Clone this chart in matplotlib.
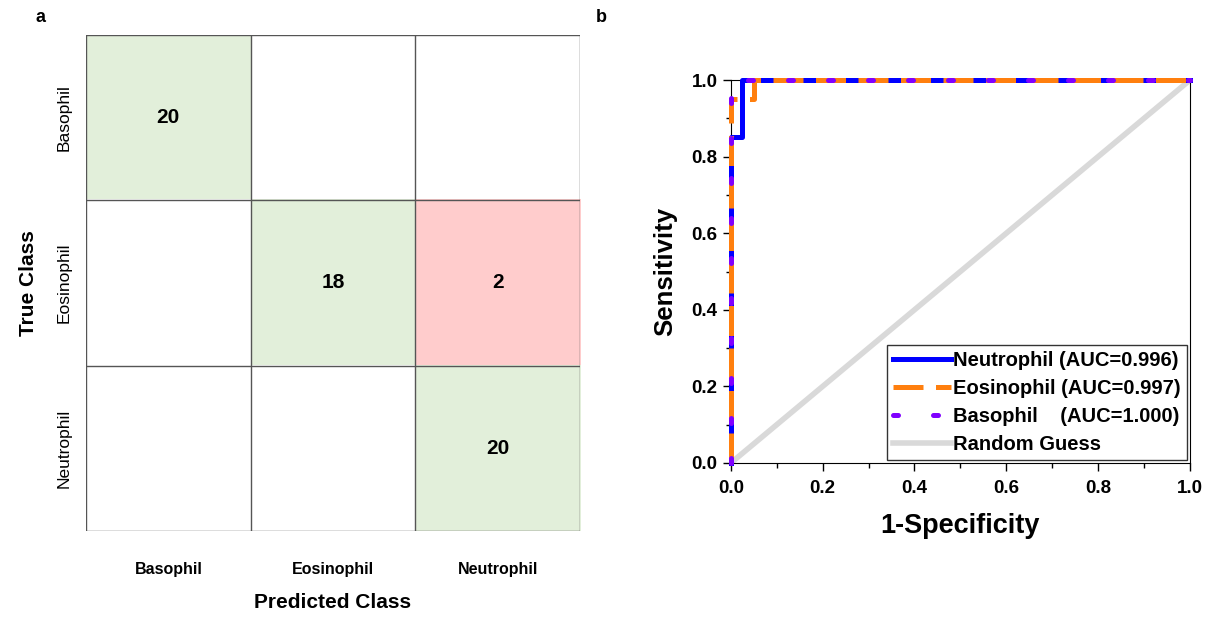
import numpy as np
import matplotlib.pyplot as plt
from matplotlib.ticker import MultipleLocator

plt.rcParams['font.family'] = ['Liberation Sans', 'DejaVu Sans']

# confusion matrix data
classes = ["Basophil", "Eosinophil", "Neutrophil"]
cm = np.array([[20, 0, 0],
               [0, 18, 2],
               [0, 0, 20]])

# ROC curves (false positive rate, true positive rate)
neu_fpr = [0.0, 0.0, 0.025, 0.025, 1.0]
neu_tpr = [0.0, 0.85, 0.85, 1.0, 1.0]
eos_fpr = [0.0, 0.0, 0.05, 0.05, 1.0]
eos_tpr = [0.0, 0.95, 0.95, 1.0, 1.0]
bas_fpr = [0.0, 0.0, 1.0]
bas_tpr = [0.0, 1.0, 1.0]
auc_vals = {"Neutrophil": 0.996, "Eosinophil": 0.997, "Basophil": 1.000}

fig = plt.figure(figsize=(12.18, 6.17), dpi=100)

# ---- panel a: confusion matrix ----
ax1 = fig.add_axes([0.0706, 0.1394, 0.4056, 0.804])
green = np.array([226, 239, 218]) / 255
red = np.array([255, 204, 204]) / 255
white = np.array([1.0, 1.0, 1.0])
n = len(classes)
rgb = np.zeros((n, n, 3))
for i in range(n):
    for j in range(n):
        if i == j:
            rgb[i, j] = green
        elif cm[i, j] > 0:
            rgb[i, j] = red
        else:
            rgb[i, j] = white
ax1.imshow(rgb, aspect='auto', extent=(-0.5, n - 0.5, n - 0.5, -0.5))
for k in range(n + 1):
    ax1.axhline(k - 0.5, color='#555555', lw=1.0)
    ax1.axvline(k - 0.5, color='#555555', lw=1.0)
for i in range(n):
    for j in range(n):
        if cm[i, j] > 0:
            ax1.text(j, i, str(cm[i, j]), ha='center', va='center',
                     fontsize=15, fontweight='bold')
for s in ax1.spines.values():
    s.set_visible(False)
ax1.set_xticks(range(n))
ax1.set_xticklabels(classes, fontsize=11.5, fontweight='bold')
ax1.set_yticks(range(n))
ax1.set_yticklabels(classes, fontsize=12.5, rotation=90, va='center')
ax1.tick_params(length=0)
ax1.tick_params(axis='x', pad=22)
ax1.tick_params(axis='y', pad=10)
ax1.set_xlabel("Predicted Class", fontsize=15, fontweight='bold', labelpad=12)
ax1.set_ylabel("True Class", fontsize=15, fontweight='bold', labelpad=14)
fig.text(0.033, 0.972, "a", fontsize=13, fontweight='bold', ha='center', va='center')

# ---- panel b: ROC ----
ax2 = fig.add_axes([0.600, 0.2496, 0.377, 0.6207])
ax2.plot([0, 1], [0, 1], color='#d9d9d9', lw=4, label='Random Guess', zorder=1)
ax2.plot(neu_fpr, neu_tpr, color='#0000ff', lw=3.6, clip_on=False,
         label=f"Neutrophil (AUC={auc_vals['Neutrophil']:.3f})", zorder=3)
ax2.plot(eos_fpr, eos_tpr, color='#ff7f0e', lw=3.6, dashes=(6, 2.5), clip_on=False,
         label=f"Eosinophil (AUC={auc_vals['Eosinophil']:.3f})", zorder=4)
ax2.plot(bas_fpr, bas_tpr, color='#8000ff', lw=3.6, dashes=(1, 7), clip_on=False,
         dash_capstyle='round',
         label=f"Basophil    (AUC={auc_vals['Basophil']:.3f})", zorder=5)
handles, labels = ax2.get_legend_handles_labels()
order = [1, 2, 3, 0]
leg = ax2.legend([handles[k] for k in order], [labels[k] for k in order],
                 loc='lower right', prop={'weight': 'bold', 'size': 14.5},
                 frameon=True, fancybox=False, edgecolor='black',
                 handlelength=2.9, handletextpad=0.1, borderpad=0.3,
                 labelspacing=0.45, borderaxespad=0.15)
leg.get_frame().set_linewidth(1.0)
leg.set_zorder(6)
ax2.set_xlim(0, 1)
ax2.set_ylim(0, 1)
ax2.xaxis.set_major_locator(MultipleLocator(0.2))
ax2.xaxis.set_minor_locator(MultipleLocator(0.1))
ax2.yaxis.set_major_locator(MultipleLocator(0.2))
ax2.yaxis.set_minor_locator(MultipleLocator(0.1))
ax2.tick_params(which='major', direction='out', length=6, width=1, labelsize=13.5)
ax2.tick_params(which='minor', direction='out', length=3.5, width=1)
ax2.tick_params(axis='x', pad=6)
for lab in ax2.get_xticklabels() + ax2.get_yticklabels():
    lab.set_fontweight('bold')
ax2.set_xlabel("1-Specificity", fontsize=19.5, fontweight='bold', labelpad=12)
ax2.set_ylabel("Sensitivity", fontsize=18.5, fontweight='bold', labelpad=10)
fig.text(0.494, 0.972, "b", fontsize=13, fontweight='bold', ha='center', va='center')

fig.savefig("out.png", dpi=100)
